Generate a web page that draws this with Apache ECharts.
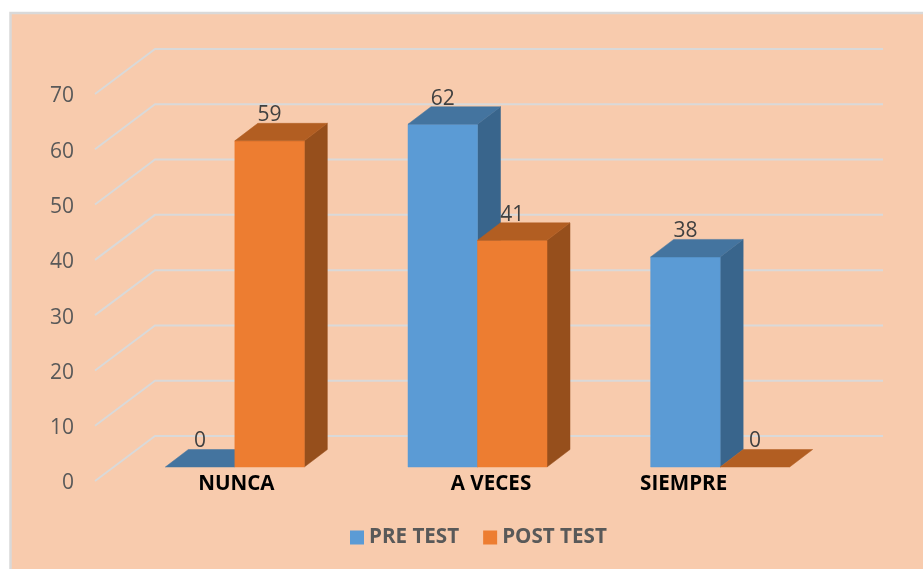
<!DOCTYPE html>
<html>
<head>
<meta charset="utf-8">
<style>html,body{margin:0;padding:0;background:#fff}#c{width:923px;height:569px}</style>
<script src="https://cdn.jsdelivr.net/npm/echarts@6/dist/echarts.min.js"></script>
</head>
<body>
<div id="c"></div>
<script>
const categories = ['NUNCA', 'A VECES', 'SIEMPRE'];
const preTest = [0, 62, 38];
const postTest = [59, 41, 0];
const valueTicks = [0, 10, 20, 30, 40, 50, 60, 70];
const seriesNames = ['PRE TEST', 'POST TEST'];

const FONT = '"Open Sans","Noto Sans",sans-serif';
const WALL = { dx: 60, dy: -45 };
const PLANE = { dx: 18.5, dy: -14 };
const DEPTH = { dx: 23, dy: -17.5 };
const BAR_W = 69.5;

function poly(points, fill) {
  return { type: 'polygon', silent: true, shape: { points }, style: { fill, stroke: fill, lineWidth: 0.5 } };
}
function barRenderer(side, front, sideColor, topColor) {
  return function (params, api) {
    const v = api.value(1);
    const base = api.coord([api.value(0), 0]);
    const top = api.coord([api.value(0), v]);
    const x0 = base[0] + PLANE.dx + (side < 0 ? -BAR_W : 0);
    const x1 = x0 + BAR_W;
    const yb = base[1] + PLANE.dy;
    const yt = top[1] + PLANE.dy;
    const d = DEPTH;
    const children = [];
    if (v > 0) {
      children.push(poly([[x1, yb], [x1 + d.dx, yb + d.dy], [x1 + d.dx, yt + d.dy], [x1, yt]], sideColor));
      children.push(poly([[x0, yb], [x1, yb], [x1, yt], [x0, yt]], front));
    }
    children.push(poly([[x0, yt], [x1, yt], [x1 + d.dx, yt + d.dy], [x0 + d.dx, yt + d.dy]], topColor));
    children.push({
      type: 'text', silent: true,
      style: { x: (x0 + x1) / 2, y: yt - 25.5, text: String(v), fill: '#404040', font: '21px ' + FONT, align: 'center', verticalAlign: 'middle' }
    });
    return { type: 'group', children };
  };
}

const chart = echarts.init(document.getElementById('c'), null, { renderer: 'canvas' });
chart.setOption({
  animation: false,
  backgroundColor: '#ffffff',
  graphic: [{
    type: 'rect', silent: true, z: 0,
    shape: { x: 10.5, y: 13, width: 1000, height: 1000 },
    style: { fill: '#F8CBAD', stroke: '#D9D9D9', lineWidth: 2.5 }
  }],
  legend: {
    left: 345, top: 522, itemWidth: 14, itemHeight: 14, itemGap: 24,
    icon: 'rect',
    data: seriesNames,
    textStyle: { color: '#595959', fontFamily: FONT, fontWeight: 'bold', fontSize: 20.6 }
  },
  grid: { left: 95, right: 100, top: 94, bottom: 88 },
  xAxis: {
    type: 'category',
    data: [
      { value: categories[0], textStyle: { padding: [0, 0, 0, 40] } },
      { value: categories[1], textStyle: { padding: [0, 0, 0, 64] } },
      { value: categories[2], textStyle: { padding: [0, 36, 0, 0] } }
    ],
    axisLine: { show: false }, axisTick: { show: false },
    axisLabel: { margin: -7, color: '#000000', fontFamily: FONT, fontWeight: 'bold', fontSize: 20.6, interval: 0 }
  },
  yAxis: {
    type: 'value', min: 0, max: 70, interval: 10,
    axisLine: { show: false }, axisTick: { show: false }, splitLine: { show: false },
    axisLabel: { margin: 21, color: '#595959', fontFamily: FONT, fontSize: 21, lineHeight: 5, verticalAlign: 'top', align: 'right' }
  },
  series: [
    {
      type: 'custom', name: 'wall', z: 1, silent: true,
      data: valueTicks.map(v => [0, v]),
      encode: { x: 0, y: 1 },
      renderItem(params, api) {
        const p = api.coord([0, api.value(1)]);
        const left = params.coordSys.x;
        const right = params.coordSys.x + params.coordSys.width;
        return {
          type: 'polyline', silent: true,
          shape: { points: [[left, p[1]], [left + WALL.dx, p[1] + WALL.dy], [right + WALL.dx, p[1] + WALL.dy]] },
          style: { fill: 'none', stroke: '#D9D9D9', lineWidth: 2 }
        };
      }
    },
    {
      type: 'custom', name: seriesNames[0], z: 3,
      itemStyle: { color: '#5B9BD5' },
      data: preTest.map((v, i) => [i, v]),
      encode: { x: 0, y: 1 },
      renderItem: barRenderer(-1, '#5B9BD5', '#39658C', '#44749F')
    },
    {
      type: 'custom', name: seriesNames[1], z: 4,
      itemStyle: { color: '#ED7D31' },
      data: postTest.map((v, i) => [i, v]),
      encode: { x: 0, y: 1 },
      renderItem: barRenderer(1, '#ED7D31', '#964F1C', '#B25E22')
    }
  ]
});
</script>
</body>
</html>
